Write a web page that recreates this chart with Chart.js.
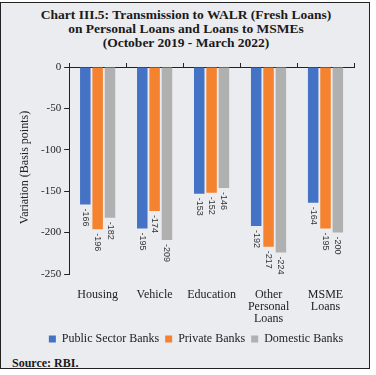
<!DOCTYPE html>
<html lang="en">
<head>
  <meta charset="UTF-8" />
  <title>Chart III.5: Transmission to WALR</title>
  <script src="https://cdn.jsdelivr.net/npm/chart.js"></script>
  <style>
    body {
      margin: 0;
      background: #fff;
      width: 376px;
      height: 375px;
      overflow: hidden;
    }
    .frame {
      position: absolute;
      left: 0;
      top: 2px;
      width: 368px;
      height: 365px;
      border: 1.5px solid #222;
      background: #ebecf0;
    }
    .title {
      position: absolute;
      left: 0;
      width: 372px;
      top: 8px;
      text-align: center;
      font-family: 'Liberation Serif', serif;
      font-weight: bold;
      font-size: 13.5px;
      line-height: 14px;
      color: #1a1a1a;
    }
    .source {
      position: absolute;
      left: 12px;
      top: 356px;
      font-family: 'Liberation Serif', serif;
      font-weight: bold;
      font-size: 12px;
      color: #1a1a1a;
    }
    .wrap {
      position: absolute;
      left: 0;
      top: 50px;
      width: 376px;
      height: 305px;
    }
  </style>
</head>
<body>
  <div class="frame"></div>
  <div class="title">Chart III.5: Transmission to WALR (Fresh Loans)<br>on Personal Loans and Loans to MSMEs<br>(October 2019 - March 2022)</div>
  <div class="wrap"><canvas id="walrChart" width="376" height="305"></canvas></div>
  <div class="source">Source: RBI.</div>

  <script>
    const categories = ['Housing', 'Vehicle', 'Education', ['Other', 'Personal', 'Loans'], ['MSME', 'Loans']];
    const publicSector = [-166, -195, -153, -192, -164];
    const privateBanks = [-196, -174, -152, -217, -195];
    const domesticBanks = [-182, -209, -146, -224, -200];
    const yTicks = [0, -50, -100, -150, -200, -250];
    const yTitle = 'Variation (Basis points)';

    const serif = "'Liberation Serif', serif";

    // vertical value labels under each bar end, plus the y title
    const barLabels = {
      id: 'barLabels',
      afterDatasetsDraw(chart) {
        const ctx = chart.ctx;
        ctx.save();
        ctx.font = "9px 'Liberation Sans', sans-serif";
        ctx.fillStyle = '#333';
        ctx.textAlign = 'left';
        ctx.textBaseline = 'middle';
        chart.data.datasets.forEach((ds, i) => {
          chart.getDatasetMeta(i).data.forEach((bar, j) => {
            ctx.save();
            ctx.translate(bar.x, bar.y + 4);
            ctx.rotate(Math.PI / 2);
            ctx.fillText(String(ds.data[j]), 0, 0);
            ctx.restore();
          });
        });
        const area = chart.chartArea;
        ctx.font = '12px ' + serif;
        ctx.fillStyle = '#222';
        ctx.textAlign = 'center';
        ctx.translate(25, (area.top + area.bottom) / 2 - 3);
        ctx.rotate(-Math.PI / 2);
        ctx.fillText(yTitle, 0, 0);
        ctx.restore();
      }
    };

    new Chart(document.getElementById('walrChart'), {
      type: 'bar',
      data: {
        labels: categories,
        datasets: [
          { label: 'Public Sector Banks', data: publicSector, backgroundColor: '#4472c4' },
          { label: 'Private Banks', data: privateBanks, backgroundColor: '#f4822f' },
          { label: 'Domestic Banks', data: domesticBanks, backgroundColor: '#b0b0b0' }
        ]
      },
      options: {
        responsive: false,
        animation: false,
        categoryPercentage: 0.65,
        barPercentage: 0.85,
        layout: { padding: { left: 38, right: 22, top: 13, bottom: 0 } },
        plugins: {
          tooltip: { enabled: false },
          legend: {
            position: 'bottom',
            labels: {
              boxWidth: 7,
              boxHeight: 7,
              padding: 6,
              color: '#222',
              font: { family: serif, size: 12 }
            }
          }
        },
        scales: {
          x: {
            position: 'bottom',
            grid: { display: false },
            border: { display: false },
            afterFit(axis) {
              axis.height -= 5;
            },
            ticks: {
              color: '#222',
              padding: 7,
              maxRotation: 0,
              autoSkip: false,
              font: { family: serif, size: 12, lineHeight: 1.0 }
            }
          },
          x2: {
            type: 'category',
            labels: categories,
            position: 'top',
            offset: true,
            grid: { drawOnChartArea: false, drawTicks: true, tickLength: 4, color: '#222', offset: true },
            border: { display: true, color: '#222', width: 1 },
            ticks: { display: false }
          },
          y: {
            min: -250,
            max: 0,
            afterBuildTicks(axis) {
              axis.ticks = yTicks.map(v => ({ value: v }));
            },
            grid: { drawOnChartArea: false, drawTicks: true, tickLength: 5, color: '#222' },
            border: { display: true, color: '#222', width: 1 },
            ticks: {
              color: '#222',
              padding: 3,
              font: { family: serif, size: 11 }
            }
          }
        }
      },
      plugins: [barLabels]
    });
  </script>
</body>
</html>
